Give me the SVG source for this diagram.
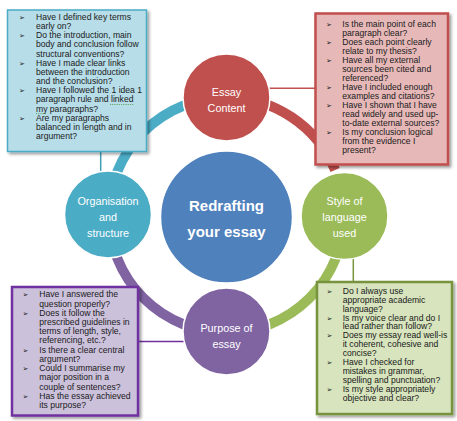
<svg xmlns="http://www.w3.org/2000/svg" width="457" height="421" viewBox="0 0 457 421">
<defs>
<filter id="sh" x="-10%" y="-10%" width="125%" height="125%">
<feDropShadow dx="2" dy="2" stdDeviation="1.5" flood-color="#000" flood-opacity="0.4"/>
</filter>
<style>
.arc{fill:none;stroke-width:10;stroke-linecap:butt}
.node{stroke:#fff;stroke-width:1.5}
.ct{font-family:"Liberation Sans",Arial,sans-serif;font-size:10.8px;fill:#fff;text-anchor:middle}
.big{font-family:"Liberation Sans",Arial,sans-serif;font-size:15px;font-weight:bold;fill:#fff;text-anchor:middle}
.bt{font-family:"Liberation Sans",Arial,sans-serif;font-size:8.6px;fill:#1a1a1a}
.bl{font-family:"DejaVu Sans",sans-serif;font-size:7px;fill:#1a1a1a}
.con{stroke-width:1.5;fill:none}
</style>
</defs>
<rect width="457" height="421" fill="#fff"/>
<g id="ring">
<path class="arc" stroke="#4BACC6" d="M109,215 A117.5,117.5 0 0 1 226.5,97.5"/>
<path class="arc" stroke="#C0504D" d="M226.5,97.5 A117.5,117.5 0 0 1 335.1,170"/>
<path class="arc" stroke="#9BBB59" d="M344,215 A117.5,117.5 0 0 1 226.5,332.5"/>
<path class="arc" stroke="#8064A2" d="M226.5,332.5 A117.5,117.5 0 0 1 109,215"/>
</g>
<g id="connectors">
<line class="con" stroke="#3F9DB5" x1="100.7" y1="151" x2="100.7" y2="172"/>
<line class="con" stroke="#C0504D" x1="268" y1="88.3" x2="315" y2="88.3"/>
<line class="con" stroke="#7030A0" x1="138" y1="341.5" x2="185" y2="341.5"/>
<line class="con" stroke="#77933C" x1="353.3" y1="257" x2="353.3" y2="282"/>
</g>
<g id="center">
<circle class="node" cx="226.5" cy="217" r="66" fill="#4F81BD"/>
<text class="big" x="226.5" y="210.5">Redrafting</text>
<text class="big" x="226.5" y="236.5">your essay</text>
</g>
<g id="essay-content">
<circle class="node" cx="226.5" cy="97.5" r="43.5" fill="#C0504D"/>
<text class="ct" x="226.5" y="95.5">Essay</text>
<text class="ct" x="226.5" y="112">Content</text>
</g>
<g id="style">
<circle class="node" cx="344.5" cy="216" r="43.5" fill="#9BBB59"/>
<text class="ct" x="344.5" y="204.5">Style of</text>
<text class="ct" x="344.5" y="221">language</text>
<text class="ct" x="344.5" y="237">used</text>
</g>
<g id="purpose">
<circle class="node" cx="226.5" cy="331.5" r="43.5" fill="#8064A2"/>
<text class="ct" x="226.5" y="332">Purpose of</text>
<text class="ct" x="226.5" y="348">essay</text>
</g>
<g id="organisation">
<circle class="node" cx="108" cy="214.5" r="43.5" fill="#4BACC6"/>
<text class="ct" x="108" y="205">Organisation</text>
<text class="ct" x="108" y="220.5">and</text>
<text class="ct" x="108" y="237">structure</text>
</g>
<g id="box-organisation">
<rect x="7.5" y="10" width="139" height="141.5" fill="#B7DDE8" stroke="#4BACC6" stroke-width="1.5" filter="url(#sh)"/>
<text class="bl"><tspan x="19" y="20">➢</tspan><tspan x="19" y="38.3">➢</tspan><tspan x="19" y="65.75">➢</tspan><tspan x="19" y="93.2">➢</tspan><tspan x="19" y="120.65">➢</tspan></text>
<text class="bt">
<tspan x="36" y="20">Have I defined key terms</tspan>
<tspan x="36" y="29.15">early on?</tspan>
<tspan x="36" y="38.3">Do the introduction, main</tspan>
<tspan x="36" y="47.45">body and conclusion follow</tspan>
<tspan x="36" y="56.6">structural conventions?</tspan>
<tspan x="36" y="65.75">Have I made clear links</tspan>
<tspan x="36" y="74.9">between the introduction</tspan>
<tspan x="36" y="84.05">and the conclusion?</tspan>
<tspan x="36" y="93.2">Have I followed the 1 idea 1</tspan>
<tspan x="36" y="102.35">paragraph rule and linked</tspan>
<tspan x="36" y="111.5">my paragraphs?</tspan>
<tspan x="36" y="120.65">Are my paragraphs</tspan>
<tspan x="36" y="129.8">balanced in length and in</tspan>
<tspan x="36" y="138.95">argument?</tspan>
</text>
<path d="M110,104.5 H134 M36,113.6 H46" stroke="#4a9a4a" stroke-width="0.8" stroke-dasharray="1.2,1" fill="none"/>
</g>
<g id="box-content">
<rect x="315.5" y="13.5" width="132.5" height="151" fill="#E6B9B8" stroke="#C0504D" stroke-width="2.5" filter="url(#sh)"/>
<text class="bl"><tspan x="326" y="27">➢</tspan><tspan x="326" y="45">➢</tspan><tspan x="326" y="63">➢</tspan><tspan x="326" y="90">➢</tspan><tspan x="326" y="108">➢</tspan><tspan x="326" y="135">➢</tspan></text>
<text class="bt">
<tspan x="342.3" y="27">Is the main point of each</tspan>
<tspan x="342.3" y="36">paragraph clear?</tspan>
<tspan x="342.3" y="45">Does each point clearly</tspan>
<tspan x="342.3" y="54">relate to my thesis?</tspan>
<tspan x="342.3" y="63">Have all my external</tspan>
<tspan x="342.3" y="72">sources been cited and</tspan>
<tspan x="342.3" y="81">referenced?</tspan>
<tspan x="342.3" y="90">Have I included enough</tspan>
<tspan x="342.3" y="99">examples and citations?</tspan>
<tspan x="342.3" y="108">Have I shown that I have</tspan>
<tspan x="342.3" y="117">read widely and used up-</tspan>
<tspan x="342.3" y="126">to-date external sources?</tspan>
<tspan x="342.3" y="135">Is my conclusion logical</tspan>
<tspan x="342.3" y="144">from the evidence I</tspan>
<tspan x="342.3" y="153">present?</tspan>
</text>
</g>
<g id="box-purpose">
<rect x="12" y="287" width="126" height="128.5" fill="#CCC1DA" stroke="#7030A0" stroke-width="2.5" filter="url(#sh)"/>
<text class="bl"><tspan x="22.5" y="297.3">➢</tspan><tspan x="22.5" y="315.7">➢</tspan><tspan x="22.5" y="352.6">➢</tspan><tspan x="22.5" y="371">➢</tspan><tspan x="22.5" y="398.7">➢</tspan></text>
<text class="bt">
<tspan x="39.3" y="297.3">Have I answered the</tspan>
<tspan x="39.3" y="306.5">question properly?</tspan>
<tspan x="39.3" y="315.7">Does it follow the</tspan>
<tspan x="39.3" y="325">prescribed guidelines in</tspan>
<tspan x="39.3" y="334.2">terms of length, style,</tspan>
<tspan x="39.3" y="343.4">referencing, etc.?</tspan>
<tspan x="39.3" y="352.6">Is there a clear central</tspan>
<tspan x="39.3" y="361.8">argument?</tspan>
<tspan x="39.3" y="371">Could I summarise my</tspan>
<tspan x="39.3" y="380.3">major position in a</tspan>
<tspan x="39.3" y="389.5">couple of sentences?</tspan>
<tspan x="39.3" y="398.7">Has the essay achieved</tspan>
<tspan x="39.3" y="407.9">its purpose?</tspan>
</text>
</g>
<g id="box-style">
<rect x="317" y="282" width="135" height="132" fill="#D7E4BD" stroke="#77933C" stroke-width="2.5" filter="url(#sh)"/>
<text class="bl"><tspan x="326.5" y="293.7">➢</tspan><tspan x="326.5" y="320.5">➢</tspan><tspan x="326.5" y="338.3">➢</tspan><tspan x="326.5" y="365.1">➢</tspan><tspan x="326.5" y="391.8">➢</tspan></text>
<text class="bt">
<tspan x="342.7" y="293.7">Do I always use</tspan>
<tspan x="342.7" y="302.6">appropriate academic</tspan>
<tspan x="342.7" y="311.5">language?</tspan>
<tspan x="342.7" y="320.5">Is my voice clear and do I</tspan>
<tspan x="342.7" y="329.4">lead rather than follow?</tspan>
<tspan x="342.7" y="338.3">Does my essay read well-is</tspan>
<tspan x="342.7" y="347.2">it coherent, cohesive and</tspan>
<tspan x="342.7" y="356.1">concise?</tspan>
<tspan x="342.7" y="365.1">Have I checked for</tspan>
<tspan x="342.7" y="374">mistakes in grammar,</tspan>
<tspan x="342.7" y="382.9">spelling and punctuation?</tspan>
<tspan x="342.7" y="391.8">Is my style appropriately</tspan>
<tspan x="342.7" y="400.7">objective and clear?</tspan>
</text>
</g>
</svg>
